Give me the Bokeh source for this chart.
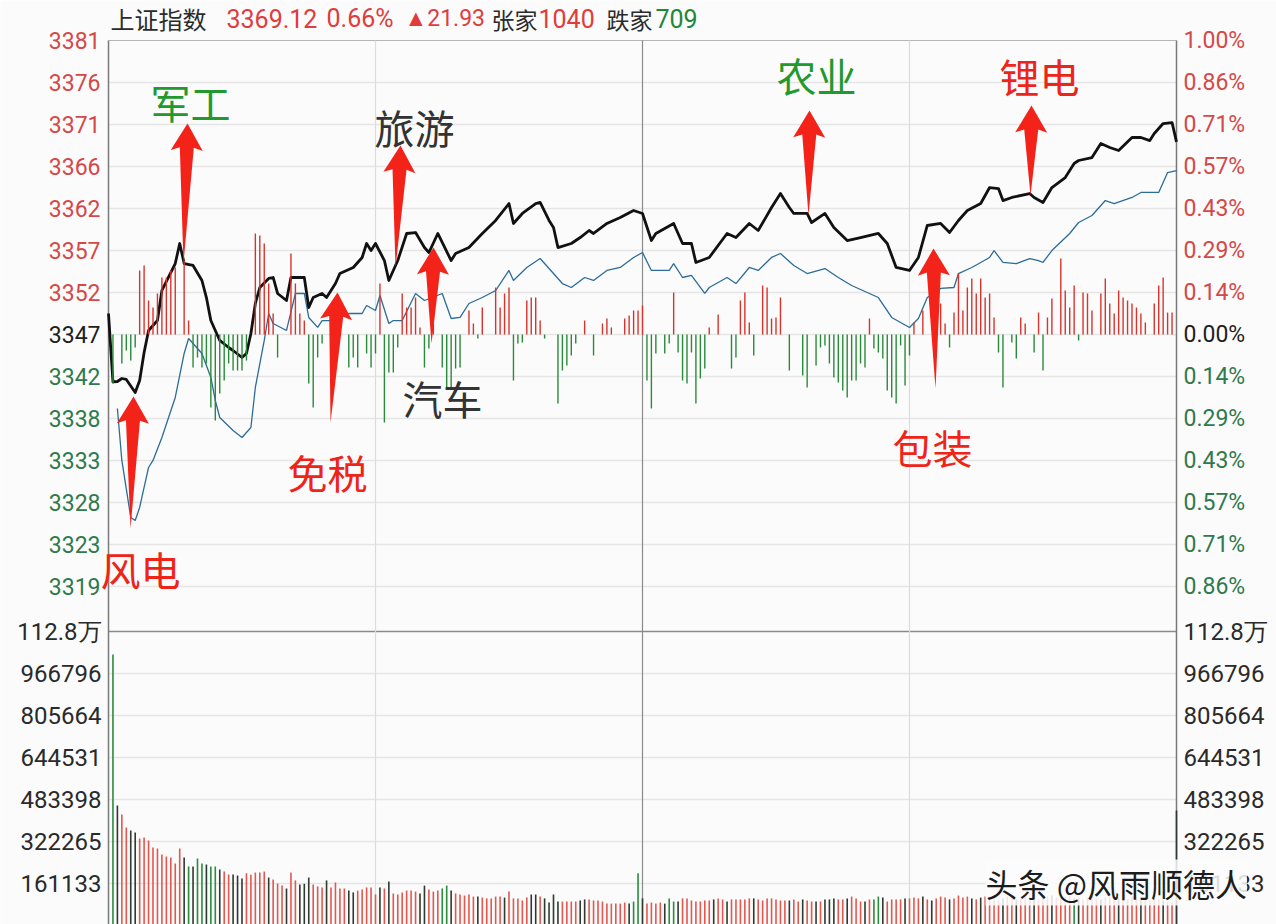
import math
from bokeh.plotting import figure
from bokeh.models import Range1d, Label
from bokeh.embed import file_html
from bokeh.resources import INLINE

# ---------------- data ----------------
index_name = "上证指数"
prev_close = 3347.19
last_price = 3369.12
change_pts = 21.93
change_pct = 0.66
n_up = 1040
n_down = 709

# (minute, price)
price_line = [(0,3349.58),(1,3341.8),(2,3341.84),(3,3342.18),(4,3342.07),(6,3340.59),(7,3341.95),(8,3345.14),
    (9,3347.65),(11,3348.78),(12,3352.2),(15,3355.27),(16,3357.55),(17,3355.27),(19,3355.05),(21,3353.34),
    (22,3351.4),(23,3348.78),(25,3346.51),(27,3345.71),(28,3345.37),(30,3344.57),(31,3345.03),(32,3347.30),
    (33,3350.72),(34,3352.54),(36,3353.57),(37,3353.68),(38,3351.86),(40,3351.06),(41,3353.68),(44,3353.68),
    (45,3350.26),(46,3351.40),(48,3351.86),(49,3351.40),(51,3352.99),(52,3354.13),(55,3354.82),(57,3355.96),
    (58,3357.55),(59,3356.75),(60,3357.55),(62,3355.61),(63,3353.34),(65,3355.61),(67,3358.69),(69,3358.80),
    (71,3357.09),(72,3356.52),(74,3358.69),(77,3355.61),(78,3356.41),(81,3357.09),(84,3358.69),(87,3360.17),
    (90,3362.10),(91,3359.83),(93,3360.97),(96,3362.10),(97,3362.22),(99,3360.17),(100,3359.37),(101,3357.09),
    (104,3357.55),(106,3358.23),(108,3359.03),(109,3358.69),(112,3359.83),(115,3360.51),(118,3361.31),
    (120,3360.97),(122,3357.89),(123,3358.69),(127,3359.83),(129,3357.55),(131,3357.55),(132,3355.39),
    (135,3355.96),(139,3358.69),(141,3358.23),(144,3359.83),(146,3359.03),(149,3361.65),(151,3363.24),
    (153,3361.65),(154,3360.97),(157,3360.97),(158,3359.94),(161,3360.97),(163,3359.37),(166,3357.89),
    (169,3358.23),(173,3358.69),(175,3357.55),(177,3354.82),(180,3354.48),(182,3355.96),(184,3359.60),
    (187,3359.83),(189,3358.80),(191,3360.17),(193,3361.31),(196,3362.10),(198,3363.92),(200,3363.81),
    (201,3362.44),(203,3362.79),(207,3363.24),(208,3362.79),(210,3362.22),(212,3363.92),(215,3365.06),
    (217,3366.66),(218,3367.0),(221,3367.34),(223,3368.93),(225,3368.48),(227,3368.14),(230,3369.62),
    (232,3369.62),(234,3369.27),(235,3370.07),(237,3371.21),(239,3371.32),(240,3369.12)]

# (minute, price)
avg_line = [(2,3338.77),(3,3332.85),(5,3326.36),(6,3326.02),(7,3327.5),(9,3332.05),(10,3332.85),(12,3335.46),
    (15,3340.02),(17,3345.03),(18,3346.73),(21,3345.03),(23,3342.30),(24,3339.68),(25,3337.74),(28,3336.26),
    (30,3335.46),(32,3336.60),(33,3341.16),(35,3346.51),(36,3349.58),(37,3348.44),(40,3347.65),(42,3351.86),
    (44,3351.86),(45,3349.13),(47,3348.0),(48,3348.78),(51,3348.78),(54,3349.58),(57,3349.58),(58,3350.49),
    (60,3349.92),(61,3351.63),(63,3348.44),(64,3348.78),(66,3348.78),(69,3351.86),(71,3351.06),(75,3351.86),
    (77,3349.01),(79,3349.13),(81,3350.72),(84,3351.40),(87,3352.2),(90,3354.48),(91,3353.34),(94,3354.82),
    (97,3355.84),(100,3354.13),(102,3352.99),(104,3352.54),(107,3353.68),(109,3353.34),(112,3354.48),
    (115,3354.82),(118,3355.96),(120,3356.52),(122,3354.48),(126,3354.48),(127,3355.27),(129,3353.68),
    (131,3353.91),(134,3351.86),(135,3352.54),(139,3353.68),(141,3352.99),(144,3354.82),(146,3354.48),
    (149,3355.96),(151,3356.41),(154,3355.05),(157,3354.13),(161,3354.70),(164,3353.68),(167,3352.77),
    (171,3351.86),(173,3351.40),(176,3349.13),(180,3347.99),(182,3349.01),(184,3351.40),(187,3352.43),
    (190,3352.54),(191,3354.13),(194,3354.82),(198,3355.96),(199,3356.75),(201,3355.39),(204,3355.27),
    (207,3355.84),(209,3355.61),(210,3355.39),(212,3356.75),(216,3358.69),(218,3359.94),(221,3360.74),
    (224,3362.44),(226,3362.10),(230,3362.79),(232,3363.36),(236,3363.36),(238,3365.63),(240,3365.86)]

# red (up) breadth sticks: (minute, height in index points above prev close)
up_bars = [(7,7.29),(8,7.85),(9,3.87),(10,3.07),(11,4.67),(12,6.49),(13,6.49),(14,7.29),(15,7.63),(17,8.42),
    (18,1.59),(33,11.50),(34,11.27),(35,10.36),(36,5.81),(37,2.39),(41,9.22),(42,5.81),(43,2.39),(44,1.59),
    (61,5.81),(66,4.67),(67,3.07),(68,3.07),(69,4.21),(70,0.80),(73,2.39),(81,2.73),(82,1.25),(84,3.07),
    (87,5.35),(88,3.07),(89,4.67),(90,5.35),(94,3.87),(95,4.21),(96,4.21),(97,1.59),(107,1.59),(111,1.25),
    (112,1.82),(113,0.80),(116,1.82),(117,2.16),(118,2.73),(119,2.73),(120,3.30),(127,4.78),(135,0.80),
    (137,2.28),(142,3.87),(143,4.78),(144,1.37),(147,5.58),(148,5.35),(149,1.82),(150,1.94),(151,4.21),
    (171,1.82),(181,1.37),(183,2.73),(187,3.53),(188,1.25),(190,2.50),(191,6.94),(192,2.73),(193,5.35),
    (194,6.37),(195,4.67),(196,6.37),(197,4.21),(198,4.67),(199,1.94),(205,1.94),(206,1.25),(209,2.50),
    (211,1.94),(212,4.10),(214,8.65),(215,5.01),(216,3.07),(217,5.58),(219,4.78),(220,4.67),(221,2.73),
    (223,4.67),(224,6.37),(225,3.53),(226,2.39),(227,5.01),(228,4.21),(229,3.87),(230,3.53),(231,3.07),
    (232,2.39),(233,1.37),(235,3.53),(236,5.58),(237,6.49),(238,2.50),(239,2.50)]

# green (down) breadth sticks: (minute, depth in index points below prev close)
down_bars = [(1,5.58),(3,3.30),(4,1.82),(5,2.96),(6,1.48),(19,3.76),(20,2.62),(21,3.76),(22,3.30),(23,8.31),
    (24,9.79),(25,6.72),(26,5.24),(27,3.30),(28,4.10),(29,4.10),(30,4.10),(31,2.96),(38,2.62),(45,5.58),
    (46,8.31),(47,2.62),(48,1.02),(54,3.76),(55,2.62),(56,3.76),(58,2.16),(59,3.76),(60,2.16),(62,10.02),
    (63,4.33),(64,4.33),(65,1.48),(71,3.76),(72,1.59),(75,3.76),(76,6.15),(77,6.15),(78,3.87),(79,3.76),
    (83,0.46),(91,5.24),(92,1.02),(93,0.91),(98,0.46),(101,7.85),(102,4.10),(103,3.53),(104,2.39),(105,1.02),
    (109,2.39),(121,5.24),(122,8.42),(123,2.16),(125,2.16),(126,1.02),(128,2.05),(129,5.24),(130,5.58),
    (131,2.05),(132,7.85),(133,5.01),(134,3.87),(140,3.87),(141,2.62),(145,2.39),(153,4.10),(156,4.67),
    (157,6.03),(159,3.53),(160,1.48),(161,1.25),(162,3.30),(163,4.90),(164,5.46),(165,6.37),(166,7.17),
    (167,5.24),(168,5.24),(169,3.30),(170,3.76),(172,1.59),(173,2.05),(174,2.73),(175,6.37),(176,7.17),
    (177,7.85),(178,1.25),(179,5.81),(180,2.39),(189,1.48),(200,2.05),(201,6.03),(203,0.91),(204,2.73),
    (208,2.05),(210,4.10),(218,0.68)]

# per-minute volume (thousands), minutes 1..240
volume_k = [1040,460,426,376,364,357,334,338,326,299,
    295,272,265,261,238,295,261,226,226,257,
    238,234,226,226,215,207,196,196,192,180,
    200,195,203,203,207,184,176,161,153,142,
    203,173,157,160,184,157,150,146,173,146,
    165,142,142,134,127,134,138,146,146,119,
    146,142,169,123,119,127,134,134,130,123,
    153,138,130,134,142,153,134,123,119,115,
    119,111,111,107,104,104,111,111,107,130,
    104,104,96,107,119,119,111,104,88,119,
    92,92,92,92,92,96,100,100,96,96,
    92,84,84,84,84,88,84,92,200,104,
    84,88,84,88,84,104,92,92,104,104,
    96,92,92,96,96,100,104,100,92,100,
    100,100,100,104,104,100,96,104,104,100,
    96,96,96,100,92,100,96,92,92,92,
    100,100,104,100,100,104,111,104,92,92,
    100,100,111,107,92,100,100,100,104,104,
    107,104,111,100,96,104,111,107,100,104,
    115,107,111,104,100,107,111,104,100,96,
    104,111,107,100,104,107,111,104,100,104,
    111,115,107,104,111,115,107,104,100,107,
    111,104,100,107,111,115,107,104,100,111,
    107,104,100,96,104,100,96,92,88,441]
# bar colour code per minute: r = up, g = down, k = flat/dark
volume_side = ("gkrrkkrrrr" "rrrrrrkgkg" "gkggkrrkkk" "rrrrrkrrrk" "rrkkkrrrkr" "rrrkkrrrrr"
               "krkrrrrrrk" "krrrggkrrr" "rrkrrrrrkr" "rrrrkkrkkk" "krrrrkkrrr" "rrrrrrkggk"
               "rrrrkggkrr" "rrrrrkrrkr" "rrrrkrrrrr" "rrkrrkrrkr" "kkkrrkrrrk" "rggkrrrrkr"
               "rrkrkrrrkr" "rrrkrkrrrr" "krrkrrrkrr" "rkrrrrgkrr" "rrkrrrkrrr" "rkrrrrkrrk")

price_tick_labels = ["3381", "3376", "3371", "3366", "3362", "3357", "3352",
                     "3347", "3342", "3338", "3333", "3328", "3323", "3319"]
pct_tick_labels = ["1.00%", "0.86%", "0.71%", "0.57%", "0.43%", "0.29%", "0.14%",
                   "0.00%", "0.14%", "0.29%", "0.43%", "0.57%", "0.71%", "0.86%"]
vol_tick_labels = ["112.8万", "966796", "805664", "644531", "483398", "322265", "161133"]
vol_tick_step = 161133

sector_notes = ["风电", "军工", "免税", "旅游", "汽车", "农业", "包装", "锂电"]
watermark = "头条 @风雨顺德人"

# ---------------- layout (page pixels) ----------------
W, H = 1276, 924
FL, FR, FT = 108, 1176, 40     # chart area edges on page
PRICE_B = 628                  # bottom of price panel
VOL_T, VOL_B = 631, 925        # volume panel top / zero line
N_MIN = 240

price_top = prev_close * 1.01
price_bot = prev_close * 0.99
ppp = (price_top - price_bot) / (PRICE_B - FT)
vol_axis_top = vol_tick_step * 7
vpp = vol_axis_top / (VOL_B - VOL_T)

def X(px):
    return (px - FL) * N_MIN / (FR - FL)

def Y(py):
    return price_top - (py - FT) * ppp

def V(py):
    return (VOL_B - py) * vpp

p = figure(width=W, height=H, x_range=Range1d(X(0), X(W)), y_range=Range1d(Y(H), Y(0)),
           output_backend="svg", toolbar_location=None, x_axis_type=None, y_axis_type=None,
           min_border=0, min_border_left=0, min_border_right=0, min_border_top=0, min_border_bottom=0)
p.extra_y_ranges = {"vol": Range1d(V(H), V(0))}
p.background_fill_color = "#fbfbfb"
p.border_fill_color = "#fbfbfb"
p.outline_line_color = None

GRID = "#e5e5e5"
# horizontal grid, price panel
gy = [prev_close * (1 + k / 700) for k in range(-6, 7)]
p.segment(x0=[0] * len(gy), y0=gy, x1=[N_MIN] * len(gy), y1=gy, line_color=GRID, line_width=1.5)
# horizontal grid, volume panel
vy = [vol_tick_step * k for k in range(1, 7)]
p.segment(x0=[0] * len(vy), y0=vy, x1=[N_MIN] * len(vy), y1=vy, line_color=GRID, line_width=1.5,
          y_range_name="vol")
# top border and panel separator
p.segment(x0=[0], y0=[price_top], x1=[N_MIN], y1=[price_top], line_color="#b5b5b5", line_width=1.2)
p.segment(x0=[0], y0=[vol_axis_top], x1=[N_MIN], y1=[vol_axis_top], line_color="#8a8a8a",
          line_width=1.5, y_range_name="vol")
# vertical grid + frame sides
ytop, ybot = price_top, Y(H)
for m, col, lw in [(60, "#dcdcdc", 1.2), (120, "#8a8a8a", 1.2), (180, "#dcdcdc", 1.2),
                   (0, "#7a7a7a", 1.5), (N_MIN, "#7a7a7a", 1.5)]:
    p.segment(x0=[m], y0=[ytop], x1=[m], y1=[ybot], line_color=col, line_width=lw)

# lines
p.line([a for a, b in avg_line], [b for a, b in avg_line], line_color="#2b6c98", line_width=1.3)
p.line([a for a, b in price_line], [b for a, b in price_line], line_color="#111111", line_width=2.8,
       line_join="round")

# breadth sticks
p.segment(x0=[m for m, v in up_bars], y0=[prev_close] * len(up_bars),
          x1=[m for m, v in up_bars], y1=[prev_close + v for m, v in up_bars],
          line_color="#d8342c", line_width=1.4)
p.segment(x0=[m for m, v in down_bars], y0=[prev_close] * len(down_bars),
          x1=[m for m, v in down_bars], y1=[prev_close - v for m, v in down_bars],
          line_color="#2a8a3a", line_width=1.4)

# volume bars
vcol = {"r": "#e4574f", "g": "#2a8c3c", "k": "#2e3a31"}
vx = list(range(1, len(volume_k) + 1))
vc = [vcol[volume_side[i]] if i < len(volume_side) else vcol["r"] for i in range(len(volume_k))]
p.segment(x0=vx, y0=[0] * len(vx), x1=vx, y1=[v * 1000 for v in volume_k], y_range_name="vol",
          line_color=vc, line_width=1.6)

# arrows + sector labels (page px: tip, tail, label centre, colour)
RED, GREEN, GREY = "#ee2418", "#22992e", "#333333"
note_layout = [((133, 396), (130, 528), (140, 568), RED),
               ((187, 123), (183, 263), (190, 101), GREEN),
               ((337, 292), (330, 422), (327, 471), RED),
               ((400, 145), (395, 267), (414, 126), GREY),
               ((433, 247), (431, 343), (442, 397), GREY),
               ((809, 110), (808, 215), (816, 74), GREEN),
               ((933, 248), (935, 388), (932, 446), RED),
               ((1031, 105), (1030, 195), (1039, 75), RED)]
HL, HW, NW = 27, 16, 7
xs, ys = [], []
for (tip, tail, lab, col) in note_layout:
    dx, dy = tip[0] - tail[0], tip[1] - tail[1]
    ln = math.hypot(dx, dy)
    ux, uy = dx / ln, dy / ln
    nx, ny = -uy, ux
    pts = [tip,
           (tip[0] - ux * HL + nx * HW, tip[1] - uy * HL + ny * HW),
           (tip[0] - ux * (HL - 3) + nx * NW, tip[1] - uy * (HL - 3) + ny * NW),
           tail,
           (tip[0] - ux * (HL - 3) - nx * NW, tip[1] - uy * (HL - 3) - ny * NW),
           (tip[0] - ux * HL - nx * HW, tip[1] - uy * HL - ny * HW)]
    xs.append([X(a) for a, b in pts])
    ys.append([Y(b) for a, b in pts])
p.patches(xs, ys, fill_color="#f3231a", line_color=None)

for text, (tip, tail, lab, col) in zip(sector_notes, note_layout):
    p.add_layout(Label(x=X(lab[0]), y=Y(lab[1]), text=text, text_align="center", text_baseline="middle",
                       text_color=col, text_font="Noto Sans CJK SC", text_font_size="40px"))

# axis tick labels
NUM_FONT = "Roboto"
TRED, TGREEN, TBLACK = "#d54848", "#2e7a4c", "#1e1e1e"
for i, (lt, rt) in enumerate(zip(price_tick_labels, pct_tick_labels)):
    k = 7 - i
    yv = prev_close * (1 + k / 700)
    col = TRED if k > 0 else (TBLACK if k == 0 else TGREEN)
    p.add_layout(Label(x=X(100), y=yv, text=lt, text_align="right", text_baseline="middle",
                       text_color=col, text_font=NUM_FONT, text_font_size="23px"))
    p.add_layout(Label(x=X(1183), y=yv, text=rt, text_align="left", text_baseline="middle",
                       text_color=col, text_font=NUM_FONT, text_font_size="23px"))
for i, vt in enumerate(vol_tick_labels):
    yv = vol_tick_step * (7 - i)
    p.add_layout(Label(x=X(101), y=yv, y_range_name="vol", text=vt, text_align="right",
                       text_baseline="middle", text_color="#2a2a2a", text_font=NUM_FONT,
                       text_font_size="24px"))
    p.add_layout(Label(x=X(1183), y=yv, y_range_name="vol", text=vt, text_align="left",
                       text_baseline="middle", text_color="#2a2a2a", text_font=NUM_FONT,
                       text_font_size="24px"))

# header
HRED, HGREEN, HDARK = "#e03c3c", "#22863a", "#2b2b2b"
header = [(index_name, 110, HDARK, "Noto Sans CJK SC", "24px"),
          (f"{last_price:.2f}", 226, HRED, NUM_FONT, "25px"),
          (f"{change_pct:.2f}%", 326, HRED, NUM_FONT, "25px"),
          (f"▲{change_pts:.2f}", 404, HRED, NUM_FONT, "23px"),
          ("张家", 491, HDARK, "Noto Sans CJK SC", "23px"),
          (str(n_up), 538, HRED, NUM_FONT, "25px"),
          ("跌家", 606, HDARK, "Noto Sans CJK SC", "23px"),
          (str(n_down), 655, HGREEN, NUM_FONT, "25px")]
for text, px, col, font, size in header:
    p.add_layout(Label(x=X(px), y=Y(18), text=text, text_align="left", text_baseline="middle",
                       text_color=col, text_font=font, text_font_size=size))

# watermark
p.add_layout(Label(x=X(985), y=Y(882), text=watermark, text_align="left", text_baseline="middle",
                   text_color="#1c1c1c", text_font="Noto Sans CJK SC", text_font_size="32px",
                   background_fill_color="#fbfbfb", background_fill_alpha=0.85))

open("out.html", "w").write(file_html(p, INLINE))
